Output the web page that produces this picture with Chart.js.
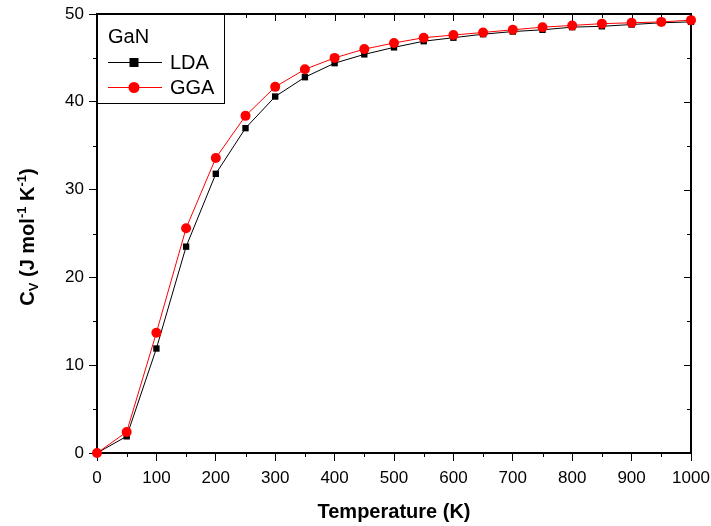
<!DOCTYPE html>
<html>
<head>
<meta charset="utf-8">
<script src="https://cdn.jsdelivr.net/npm/chart.js@4.4.0/dist/chart.umd.min.js"></script>
<style>
  html, body { margin: 0; padding: 0; background: #fff; }
  #wrap { width: 711px; height: 526px; }
</style>
</head>
<body>
<div id="wrap"><canvas id="c" width="711" height="526"></canvas></div>
<script>
// temperature (K)
const temps = [0, 50, 100, 150, 200, 250, 300, 350, 400, 450, 500, 550, 600, 650, 700, 750, 800, 850, 900, 950, 1000];
// Cv values
const ldaCv = [0, 1.9, 11.9, 23.5, 31.8, 37.0, 40.6, 42.8, 44.4, 45.4, 46.2, 46.9, 47.3, 47.7, 48.0, 48.2, 48.5, 48.6, 48.8, 49.0, 49.1];
const ggaCv = [0, 2.4, 13.7, 25.6, 33.6, 38.4, 41.7, 43.7, 45.0, 46.0, 46.7, 47.3, 47.6, 47.9, 48.2, 48.5, 48.7, 48.9, 49.0, 49.1, 49.3];
const xTicks = [0, 100, 200, 300, 400, 500, 600, 700, 800, 900, 1000];
const yTicks = [0, 10, 20, 30, 40, 50];

const FONT = "Arial, 'Liberation Sans', sans-serif";

const toPts = (ys) => temps.map((t, i) => ({ x: t, y: ys[i] }));

// frame, minor ticks, mirrored ticks, legend and axis titles
const decor = {
  id: 'decor',
  beforeDatasetsDraw(chart) {
    const ctx = chart.ctx;
    const a = chart.chartArea;
    const xs = chart.scales.x, ys = chart.scales.y;
    ctx.save();
    ctx.strokeStyle = '#000';
    ctx.lineWidth = 1;
    // ticks
    for (let v = 0; v <= 1000; v += 50) {
      const px = Math.round(xs.getPixelForValue(v)) + 0.5;
      const major = v % 100 === 0;
      const len = major ? 7 : 4;
      ctx.beginPath();
      if (!major) { ctx.moveTo(px, a.bottom); ctx.lineTo(px, a.bottom + len); }
      ctx.moveTo(px, a.top); ctx.lineTo(px, a.top + len);
      ctx.stroke();
    }
    for (let v = 0; v <= 50; v += 5) {
      const py = Math.round(ys.getPixelForValue(v)) + 0.5;
      const major = v % 10 === 0;
      const len = major ? 7 : 4;
      ctx.beginPath();
      if (!major) { ctx.moveTo(a.left, py); ctx.lineTo(a.left - len, py); }
      ctx.moveTo(a.right, py); ctx.lineTo(a.right - len, py);
      ctx.stroke();
    }
    // frame
    ctx.lineWidth = 2;
    ctx.strokeRect(a.left, a.top, a.right - a.left, a.bottom - a.top);
    ctx.restore();
  },
  afterDraw(chart) {
    const ctx = chart.ctx;
    const a = chart.chartArea;
    ctx.save();
    // legend
    const lx = a.left, ly = a.top, lw = 127, lh = 89;
    ctx.fillStyle = '#fff';
    ctx.fillRect(lx + 1, ly + 1, lw, lh);
    ctx.strokeStyle = '#000';
    ctx.lineWidth = 1;
    ctx.strokeRect(lx + 0.5, ly + 0.5, lw, lh);
    ctx.lineWidth = 2;
    ctx.beginPath();
    ctx.moveTo(lx, ly); ctx.lineTo(lx + lw + 1, ly);
    ctx.moveTo(lx, ly); ctx.lineTo(lx, ly + lh + 1);
    ctx.stroke();
    ctx.lineWidth = 1;
    ctx.fillStyle = '#000';
    ctx.font = '20px ' + FONT;
    ctx.textBaseline = 'middle';
    ctx.textAlign = 'left';
    ctx.fillText('GaN', lx + 11, ly + 23);
    const rows = [
      { label: 'LDA', color: '#000', shape: 'rect', y: ly + 48 },
      { label: 'GGA', color: '#ff0000', shape: 'circle', y: ly + 73 }
    ];
    rows.forEach(r => {
      ctx.strokeStyle = r.color;
      ctx.fillStyle = r.color;
      ctx.beginPath();
      ctx.moveTo(lx + 11, r.y + 0.5); ctx.lineTo(lx + 65, r.y + 0.5);
      ctx.stroke();
      const cx = lx + 37;
      if (r.shape === 'rect') ctx.fillRect(cx - 4.5, r.y - 4, 9, 9);
      else { ctx.beginPath(); ctx.arc(cx, r.y + 0.5, 5.5, 0, Math.PI * 2); ctx.fill(); }
      ctx.fillStyle = '#000';
      ctx.fillText(r.label, lx + 73, r.y + 1);
    });

    // x title
    ctx.font = 'bold 20px ' + FONT;
    ctx.textAlign = 'center';
    ctx.textBaseline = 'alphabetic';
    ctx.fillText('Temperature (K)', (a.left + a.right) / 2, 518);

    // y title with sub/superscripts
    const parts = [
      { t: 'C', f: 'bold 20px ', dy: 0 },
      { t: 'V', f: 'bold 13px ', dy: 4 },
      { t: ' (J mol', f: 'bold 20px ', dy: 0 },
      { t: '-1', f: 'bold 13px ', dy: -8 },
      { t: ' K', f: 'bold 20px ', dy: 0 },
      { t: '-1', f: 'bold 13px ', dy: -8 },
      { t: ')', f: 'bold 20px ', dy: 0 }
    ];
    let total = 0;
    parts.forEach(p => { ctx.font = p.f + FONT; p.w = ctx.measureText(p.t).width; total += p.w; });
    ctx.translate(34, 237);
    ctx.rotate(-Math.PI / 2);
    let x0 = -total / 2;
    ctx.textAlign = 'left';
    parts.forEach(p => {
      ctx.font = p.f + FONT;
      ctx.fillText(p.t, x0, p.dy);
      x0 += p.w;
    });
    ctx.restore();
  }
};

new Chart(document.getElementById('c'), {
  type: 'line',
  data: {
    datasets: [
      {
        label: 'LDA',
        data: toPts(ldaCv),
        borderColor: '#000',
        backgroundColor: '#000',
        borderWidth: 1,
        pointStyle: 'rect',
        pointRadius: 4.5,
        pointBorderWidth: 0,
        tension: 0,
        clip: false,
        order: 2
      },
      {
        label: 'GGA',
        data: toPts(ggaCv),
        borderColor: '#ff0000',
        backgroundColor: '#ff0000',
        borderWidth: 1,
        pointStyle: 'circle',
        pointRadius: 5,
        pointBorderWidth: 0,
        tension: 0,
        clip: false,
        order: 1
      }
    ]
  },
  options: {
    responsive: false,
    animation: false,
    layout: { padding: { top: 14, right: 0, left: 0, bottom: 0 } },
    plugins: { legend: { display: false }, tooltip: { enabled: false } },
    scales: {
      x: {
        type: 'linear',
        min: 0, max: 1000,
        afterBuildTicks: (s) => { s.ticks = xTicks.map(v => ({ value: v })); },
        afterFit: (s) => { s.height = 73; s.paddingRight = 20; s.paddingLeft = 0; },
        grid: { drawOnChartArea: false, drawTicks: true, tickLength: 8, color: '#000', lineWidth: 1 },
        border: { display: true, color: '#000', width: 2 },
        ticks: { color: '#000', font: { family: FONT, size: 17 }, padding: 7, maxRotation: 0, callback: (v) => String(v) }
      },
      y: {
        type: 'linear',
        min: 0, max: 50,
        afterBuildTicks: (s) => { s.ticks = yTicks.map(v => ({ value: v })); },
        afterFit: (s) => { s.width = 97; s.paddingTop = 0; s.paddingBottom = 0; },
        grid: { drawOnChartArea: false, drawTicks: true, tickLength: 8, color: '#000', lineWidth: 1 },
        border: { display: true, color: '#000', width: 2 },
        ticks: { color: '#000', font: { family: FONT, size: 17 }, padding: 5, callback: (v) => String(v) }
      }
    }
  },
  plugins: [decor]
});
</script>
</body>
</html>
